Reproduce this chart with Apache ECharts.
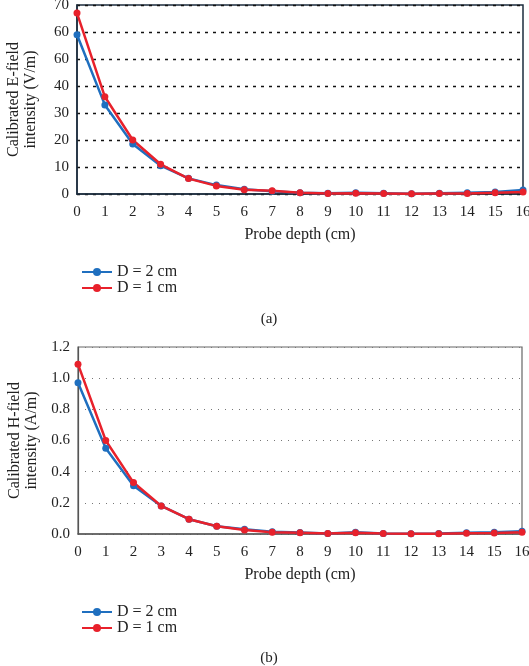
<!DOCTYPE html>
<html>
<head>
<meta charset="utf-8">
<script src="https://cdn.jsdelivr.net/npm/echarts@6/dist/echarts.min.js"></script>
<style>
  html, body { margin: 0; padding: 0; background: #fff; }
</style>
</head>
<body>
<div id="main" style="width:529px;height:666px;"></div>
<script>
  // probe depth in cm
  var depths = ['0', '1', '2', '3', '4', '5', '6', '7', '8', '9', '10', '11', '12', '13', '14', '15', '16'];

  // (a) E-field, V/m
  var eFieldD2 = [59, 33, 18.5, 10.5, 5.8, 3.3, 1.8, 1.0, 0.5, 0.3, 0.5, 0.3, 0.1, 0.3, 0.5, 0.7, 1.5];
  var eFieldD1 = [67, 36, 20, 11, 5.7, 3.0, 1.6, 1.2, 0.5, 0.2, 0.3, 0.2, 0.1, 0.2, 0.2, 0.5, 0.7];
  // tick labels as printed in the figure
  var eTicks = ['0', '10', '20', '30', '40', '60', '60', '70'];

  // (b) H-field, A/m
  var hFieldD2 = [0.97, 0.55, 0.31, 0.18, 0.095, 0.05, 0.03, 0.015, 0.01, 0.003, 0.012, 0.003, 0.002, 0.003, 0.008, 0.012, 0.018];
  var hFieldD1 = [1.09, 0.60, 0.33, 0.18, 0.095, 0.05, 0.025, 0.012, 0.008, 0.003, 0.008, 0.004, 0.002, 0.002, 0.005, 0.006, 0.012];
  var hTicks = ['0.0', '0.2', '0.4', '0.6', '0.8', '1.0', '1.2'];

  var blue = '#1f6fbf';
  var red = '#e8212b';
  var font = 'Liberation Serif';

  var chart = echarts.init(document.getElementById('main'));

  function xAxisFor(gridIndex, lineColor) {
    return {
      type: 'category',
      gridIndex: gridIndex,
      data: depths,
      boundaryGap: false,
      name: 'Probe depth (cm)',
      nameLocation: 'middle',
      nameGap: 33,
      nameTextStyle: { fontFamily: font, fontSize: 16, color: '#222' },
      axisLine: { show: true, lineStyle: { color: lineColor, width: 1.5 } },
      axisTick: { show: false },
      axisLabel: { fontFamily: font, fontSize: 15, color: '#222', margin: 11, interval: 0 },
      splitLine: { show: false }
    };
  }

  function lineSeries(name, data, color, axisIndex) {
    return {
      name: name,
      type: 'line',
      xAxisIndex: axisIndex,
      yAxisIndex: axisIndex,
      data: data,
      symbol: 'circle',
      symbolSize: 7,
      lineStyle: { color: color, width: 2.5 },
      itemStyle: { color: color },
      animation: false
    };
  }

  var option = {
    backgroundColor: '#fff',
    title: [
      { text: '(a)', left: 264, top: 307, textAlign: 'center',
        textStyle: { fontFamily: font, fontSize: 15, fontWeight: 'normal', color: '#222' } },
      { text: '(b)', left: 264, top: 646, textAlign: 'center',
        textStyle: { fontFamily: font, fontSize: 15, fontWeight: 'normal', color: '#222' } }
    ],
    legend: [
      {
        orient: 'vertical', left: 76, top: 259, itemWidth: 30, itemHeight: 10, itemGap: 0,
        data: ['D = 2 cm', 'D = 1 cm'],
        textStyle: { fontFamily: font, fontSize: 16, color: '#222' }
      },
      {
        orient: 'vertical', left: 76, top: 599, itemWidth: 30, itemHeight: 10, itemGap: 0,
        data: ['D = 2 cm', 'D = 1 cm'],
        textStyle: { fontFamily: font, fontSize: 16, color: '#222' }
      }
    ],
    grid: [
      { left: 77, top: 5, right: 6, height: 189, show: true, borderColor: '#1c2d3e', borderWidth: 1.5, outerBoundsMode: 'none' },
      { left: 78, top: 347, right: 7, height: 187, show: true, borderColor: '#666', borderWidth: 1.2, outerBoundsMode: 'none' }
    ],
    xAxis: [
      xAxisFor(0, '#1c2d3e'),
      xAxisFor(1, '#555')
    ],
    yAxis: [
      {
        type: 'value', gridIndex: 0, min: 0, max: 70, interval: 10,
        name: 'Calibrated E-field\nintensity (V/m)',
        nameLocation: 'middle', nameGap: 38,
        nameTextStyle: { fontFamily: font, fontSize: 16, color: '#222', lineHeight: 17 },
        axisLine: { show: true, lineStyle: { color: '#1c2d3e', width: 1.5 } },
        axisTick: { show: false },
        axisLabel: {
          fontFamily: font, fontSize: 15, color: '#222', margin: 8,
          formatter: function (v) { return eTicks[Math.round(v / 10)]; }
        },
        splitLine: { show: true, lineStyle: { color: '#111', type: [3, 5], width: 1.3 } }
      },
      {
        type: 'value', gridIndex: 1, min: 0, max: 1.2, interval: 0.2,
        name: 'Calibrated H-field\nintensity (A/m)',
        nameLocation: 'middle', nameGap: 38,
        nameTextStyle: { fontFamily: font, fontSize: 16, color: '#222', lineHeight: 17 },
        axisLine: { show: true, lineStyle: { color: '#555', width: 1.2 } },
        axisTick: { show: false },
        axisLabel: {
          fontFamily: font, fontSize: 15, color: '#222', margin: 8,
          formatter: function (v) { return hTicks[Math.round(v / 0.2)]; }
        },
        splitLine: { show: true, lineStyle: { color: '#777', type: [1, 6], width: 1 } }
      }
    ],
    series: [
      lineSeries('D = 2 cm', eFieldD2, blue, 0),
      lineSeries('D = 1 cm', eFieldD1, red, 0),
      lineSeries('D = 2 cm', hFieldD2, blue, 1),
      lineSeries('D = 1 cm', hFieldD1, red, 1)
    ]
  };

  chart.setOption(option);
</script>
</body>
</html>
